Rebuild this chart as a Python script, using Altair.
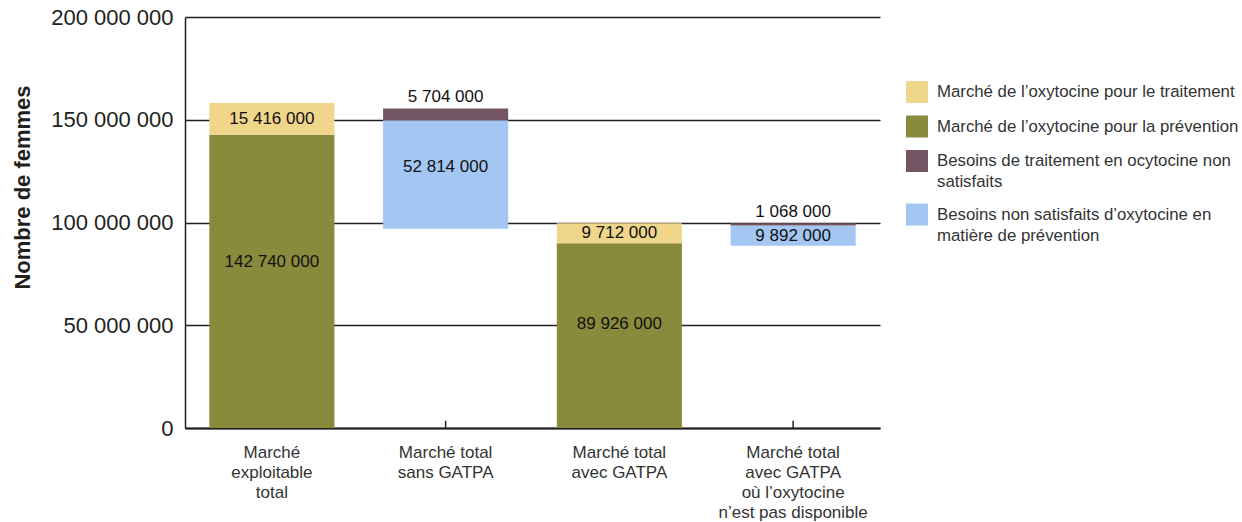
import altair as alt
import pandas as pd

# ---------------- data ----------------
categories = [
    "Marché|exploitable|total",
    "Marché total|sans GATPA",
    "Marché total|avec GATPA",
    "Marché total|avec GATPA|où l’oxytocine|n’est pas disponible",
]
series = [
    "Marché de l’oxytocine pour le traitement",
    "Marché de l’oxytocine pour la prévention",
    "Besoins de traitement en ocytocine non satisfaits",
    "Besoins non satisfaits d’oxytocine en matière de prévention",
]
series_lines = [
    ["Marché de l’oxytocine pour le traitement"],
    ["Marché de l’oxytocine pour la prévention"],
    ["Besoins de traitement en ocytocine non", "satisfaits"],
    ["Besoins non satisfaits d’oxytocine en", "matière de prévention"],
]
colors = ["#F0D68A", "#8A8A3C", "#735463", "#A3C7F2"]

seg_bar = [0, 0, 1, 1, 2, 2, 3, 3]
seg_series = [1, 0, 3, 2, 1, 0, 3, 2]
seg_base = [0, 142740000, 97000000, 149814000, 0, 89926000, 88678000, 98570000]
seg_value = [142740000, 15416000, 52814000, 5704000, 89926000, 9712000, 9892000, 1068000]

y_ticks = [0, 50000000, 100000000, 150000000, 200000000]

# ---------------- table ----------------
df = pd.DataFrame({
    "cat": [categories[i] for i in seg_bar],
    "series": [series[i] for i in seg_series],
    "above": [seg_series[i] == 2 for i in range(len(seg_bar))],
    "base": seg_base,
    "value": seg_value,
})
df["top"] = df["base"] + df["value"]
df["label"] = [f"{v:,}".replace(",", " ") for v in df["value"]]
df["labelpos"] = [
    t if a else (b + 0.565 * v if v > 30000000 else b + v / 2)
    for a, b, v, t in zip(df["above"], df["base"], df["value"], df["top"])
]
ticks_df = pd.DataFrame({"cat": categories})

FONT = "Liberation Sans"
DARK = "#231f20"

x_enc = alt.X(
    "cat:N",
    sort=categories,
    scale=alt.Scale(paddingInner=0.28, paddingOuter=0.14),
    axis=alt.Axis(
        title=None, labelAngle=0, ticks=False, labelFontSize=17, labelAlign="center",
        labelColor="#333333", labelPadding=24, labelExpr="split(datum.label, '|')",
        labelBaseline="middle",
        domainColor=DARK, domainWidth=2, labelLineHeight=20.3,
    ),
)
y_scale = alt.Scale(domain=[0, 200000000], nice=False)

legend_expr = " : ".join(
    f"datum.label == '{s}' ? [{', '.join(repr(l) for l in ls)}]"
    for s, ls in zip(series, series_lines)
) + " : datum.label"

bars = alt.Chart(df).mark_bar(opacity=1).encode(
    x=x_enc,
    y=alt.Y(
        "base:Q", scale=y_scale,
        axis=alt.Axis(
            values=y_ticks, title="Nombre de femmes", ticks=False,
            labelExpr="replace(replace(format(datum.value, ','), ',', ' '), ',', ' ')",
            labelFontSize=22, labelColor=DARK, labelPadding=12,
            titleFontSize=22, titleFontWeight="bold", titleColor=DARK,
            titleX=-163, titleY=170, titleAlign="center", titleBaseline="middle", titleAngle=270,
            grid=True, gridColor=DARK, gridWidth=1.5, domainColor=DARK, domainWidth=1.5,
        ),
    ),
    y2="top:Q",
    color=alt.Color(
        "series:N",
        scale=alt.Scale(domain=series, range=colors),
        legend=alt.Legend(
            title=None, orient="none", legendX=721, legendY=64,
            symbolType="square", symbolSize=484, symbolStrokeWidth=0,
            labelFontSize=16.8, labelColor="#333333", labelOffset=9,
            labelLimit=400, rowPadding=12.5, padding=0, labelExpr=legend_expr,
        ),
    ),
)

tick_rules = alt.Chart(ticks_df).mark_rule(color=DARK, strokeWidth=1.5).encode(
    x=alt.X("cat:N", sort=categories),
    y=alt.datum(0, type="quantitative"),
    y2=alt.datum(3500000),
)

text_in = alt.Chart(df).transform_filter("!datum.above").mark_text(
    fontSize=17, color="#111111", baseline="middle"
).encode(x=alt.X("cat:N", sort=categories), y=alt.Y("labelpos:Q"), text="label:N")

text_above = alt.Chart(df).transform_filter("datum.above").mark_text(
    fontSize=17, color="#111111", baseline="bottom", dy=-2
).encode(x=alt.X("cat:N", sort=categories), y=alt.Y("labelpos:Q"), text="label:N")

chart = alt.layer(tick_rules, bars, text_in, text_above).properties(
    width=695, height=411,
    autosize=alt.AutoSizeParams(type="none"),
    padding={"left": 185, "top": 17, "right": 362, "bottom": 94},
).configure(
    font=FONT, style={"guide-label": {"lineHeight": 21}}
).configure_view(strokeWidth=0)

chart.save("out.html", embed_options={"renderer": "svg", "actions": False})
